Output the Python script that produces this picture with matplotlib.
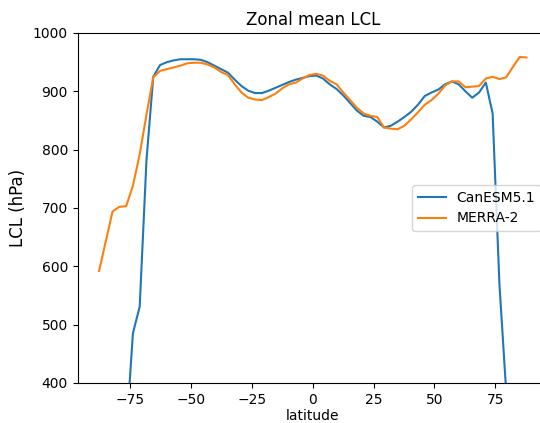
import matplotlib.pyplot as plt

# latitudes of the model grid (deg)
lat = [-87.86, -85.10, -82.31, -79.53, -76.74, -73.95, -71.16, -68.37, -65.58, -62.79,
       -60.00, -57.21, -54.42, -51.63, -48.84, -46.04, -43.25, -40.46, -37.67, -34.88,
       -32.09, -29.30, -26.51, -23.72, -20.93, -18.14, -15.35, -12.56, -9.77, -6.98,
       -4.19, -1.40, 1.40, 4.19, 6.98, 9.77, 12.56, 15.35, 18.14, 20.93,
       23.72, 26.51, 29.30, 32.09, 34.88, 37.67, 40.46, 43.25, 46.04, 48.84,
       51.63, 54.42, 57.21, 60.00, 62.79, 65.58, 68.37, 71.16, 73.95, 76.74,
       79.53, 82.31, 85.10, 87.86]

# zonal mean LCL (hPa)
canesm = [300, 300, 300, 300, 310, 485, 531, 782, 925, 945,
          950, 953, 955, 955, 955, 954, 950, 944, 938, 932,
          920, 909, 901, 897, 897, 901, 906, 911, 916, 920,
          923, 926, 927, 922, 912, 904, 893, 880, 867, 858,
          856, 848, 838, 841, 848, 856, 865, 877, 892, 898,
          903, 912, 917, 912, 900, 889, 898, 915, 862, 570,
          385, 300, 300, 300]

merra = [592, 643, 694, 702, 703, 738, 792, 860, 924, 935,
         938, 941, 944, 948, 949, 949, 946, 941, 933, 928,
         912, 898, 889, 886, 885, 890, 896, 905, 912, 915,
         922, 928, 930, 927, 918, 912, 898, 885, 872, 862,
         858, 856, 838, 836, 835, 841, 852, 864, 877, 885,
         896, 910, 917, 917, 907, 908, 909, 922, 925, 921,
         924, 942, 959, 958]

fig = plt.figure(figsize=(5.4, 4.23), dpi=100)
ax = fig.add_axes([0.1439, 0.0946, 0.8706, 0.8274])

ax.plot(lat, canesm, label='CanESM5.1')
ax.plot(lat, merra, label='MERRA-2')

ax.set_ylim(400, 1000)
ax.set_title('Zonal mean LCL')
ax.set_xlabel('latitude', labelpad=2)
ax.set_ylabel('LCL (hPa)', fontsize=12)
ax.legend(loc='center right')

fig.savefig('out.png', dpi=100)
